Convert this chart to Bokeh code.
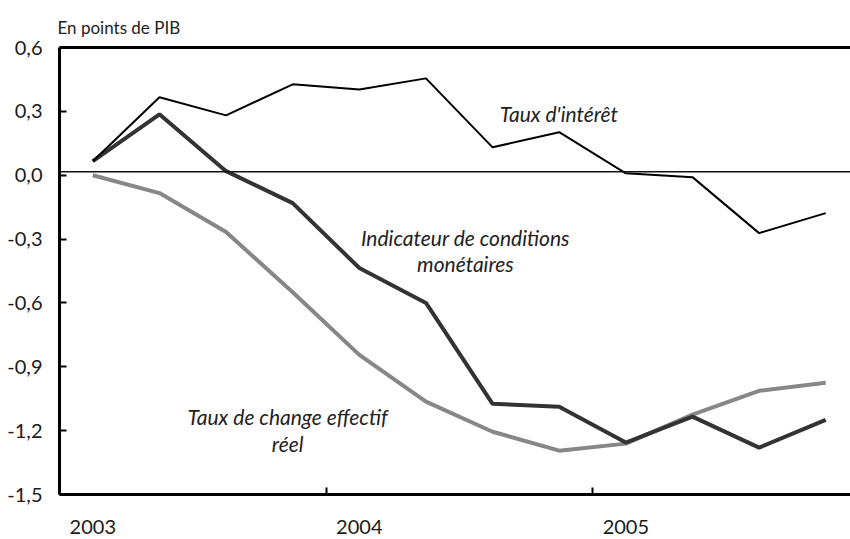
from bokeh.plotting import figure
from bokeh.models import Range1d, FixedTicker, Span, LinearAxis, Label
from bokeh.embed import file_html
from bokeh.resources import INLINE

# ---- data -------------------------------------------------------------
quarters = [2003.125, 2003.375, 2003.625, 2003.875,
            2004.125, 2004.375, 2004.625, 2004.875,
            2005.125, 2005.375, 2005.625, 2005.875]

taux_interet = [0.066, 0.366, 0.281, 0.427, 0.403, 0.455,
                0.131, 0.202, 0.009, -0.009, -0.272, -0.178]
icm = [0.066, 0.286, 0.019, -0.131, -0.436, -0.600,
       -1.074, -1.088, -1.256, -1.134, -1.280, -1.149]
tcer = [0.000, -0.084, -0.267, -0.550, -0.844, -1.064,
        -1.205, -1.294, -1.261, -1.125, -1.013, -0.975]

year_ticks = [2003, 2004, 2005]
year_label_pos = [2003.125, 2004.125, 2005.125]
year_labels = ["2003", "2004", "2005"]

y_ticks = [-1.5, -1.2, -0.9, -0.6, -0.3, 0.0, 0.3, 0.6]
y_labels = ["-1,5", "-1,2", "-0,9", "-0,6", "-0,3", "0,0", "0,3", "0,6"]

unit_label = "En points de PIB"
zero_line = 0.016

annotations = [
    ("Taux d'intérêt", 2004.874, 0.291),
    ("Indicateur de conditions", 2004.523, -0.291),
    ("monétaires", 2004.523, -0.417),
    ("Taux de change effectif", 2003.856, -1.135),
    ("réel", 2003.856, -1.261),
]

# ---- figure -----------------------------------------------------------
W, H = 850, 539
FONT = "Lato"

p = figure(width=W, height=H, output_backend="svg", toolbar_location=None,
           x_range=Range1d(2003.0, 2005.968), y_range=Range1d(-1.5, 0.6),
           x_axis_type=None, y_axis_type=None,
           min_border_left=59, min_border_top=47, min_border_bottom=45,
           min_border_right=0, title=unit_label)
p.outline_line_color = None
p.grid.visible = False
p.background_fill_color = "white"

p.title.text_font = FONT
p.title.text_font_size = "17px"
p.title.text_font_style = "normal"
p.title.text_color = "#222222"
p.title.align = "left"
p.title.vertical_align = "top"
p.title.offset = -2
p.title.standoff = 15

# y axis
yax = LinearAxis(ticker=FixedTicker(ticks=y_ticks),
                 major_label_overrides={t: l for t, l in zip(y_ticks, y_labels)})
yax.axis_line_width = 3
yax.axis_line_color = "black"
yax.major_tick_in = 7
yax.major_tick_out = 0
yax.major_tick_line_width = 2
yax.minor_tick_line_color = None
yax.major_label_standoff = 17
yax.major_label_text_font = FONT
yax.major_label_text_font_size = "20px"
yax.major_label_text_color = "#1a1a1a"
p.add_layout(yax, "left")

# x axis: labels at first quarter, marks at years (minor ticks)
xax = LinearAxis(ticker=FixedTicker(ticks=year_label_pos, minor_ticks=year_ticks),
                 major_label_overrides={t: l for t, l in zip(year_label_pos, year_labels)})
xax.axis_line_width = 3
xax.axis_line_color = "black"
xax.major_tick_line_color = None
xax.minor_tick_in = 7
xax.minor_tick_out = 0
xax.minor_tick_line_width = 2
xax.minor_tick_line_color = "black"
xax.major_label_standoff = 19
xax.major_label_text_font = FONT
xax.major_label_text_font_size = "20px"
xax.major_label_text_color = "#1a1a1a"
p.add_layout(xax, "below")

# top border line
top = LinearAxis(ticker=FixedTicker(ticks=[]))
top.axis_line_width = 3
top.axis_line_color = "black"
top.major_tick_line_color = None
top.minor_tick_line_color = None
top.major_tick_in = 0
top.major_tick_out = 0
top.minor_tick_in = 0
top.minor_tick_out = 0
top.major_label_standoff = 0
top.major_label_text_font_size = "0px"
p.add_layout(top, "above")

p.add_layout(Span(location=zero_line, dimension="width",
                  line_color="#111111", line_width=1.5))

p.line(quarters, tcer, line_color="#878787", line_width=4)
p.line(quarters, icm, line_color="#333333", line_width=4)
p.line(quarters, taux_interet, line_color="black", line_width=2)

for txt, x, y in annotations:
    p.add_layout(Label(x=x, y=y, text=txt, text_font=FONT,
                       text_font_style="italic", text_font_size="21px",
                       text_align="center", text_baseline="alphabetic",
                       text_color="#222222"))

open("out.html", "w").write(file_html(p, INLINE))
